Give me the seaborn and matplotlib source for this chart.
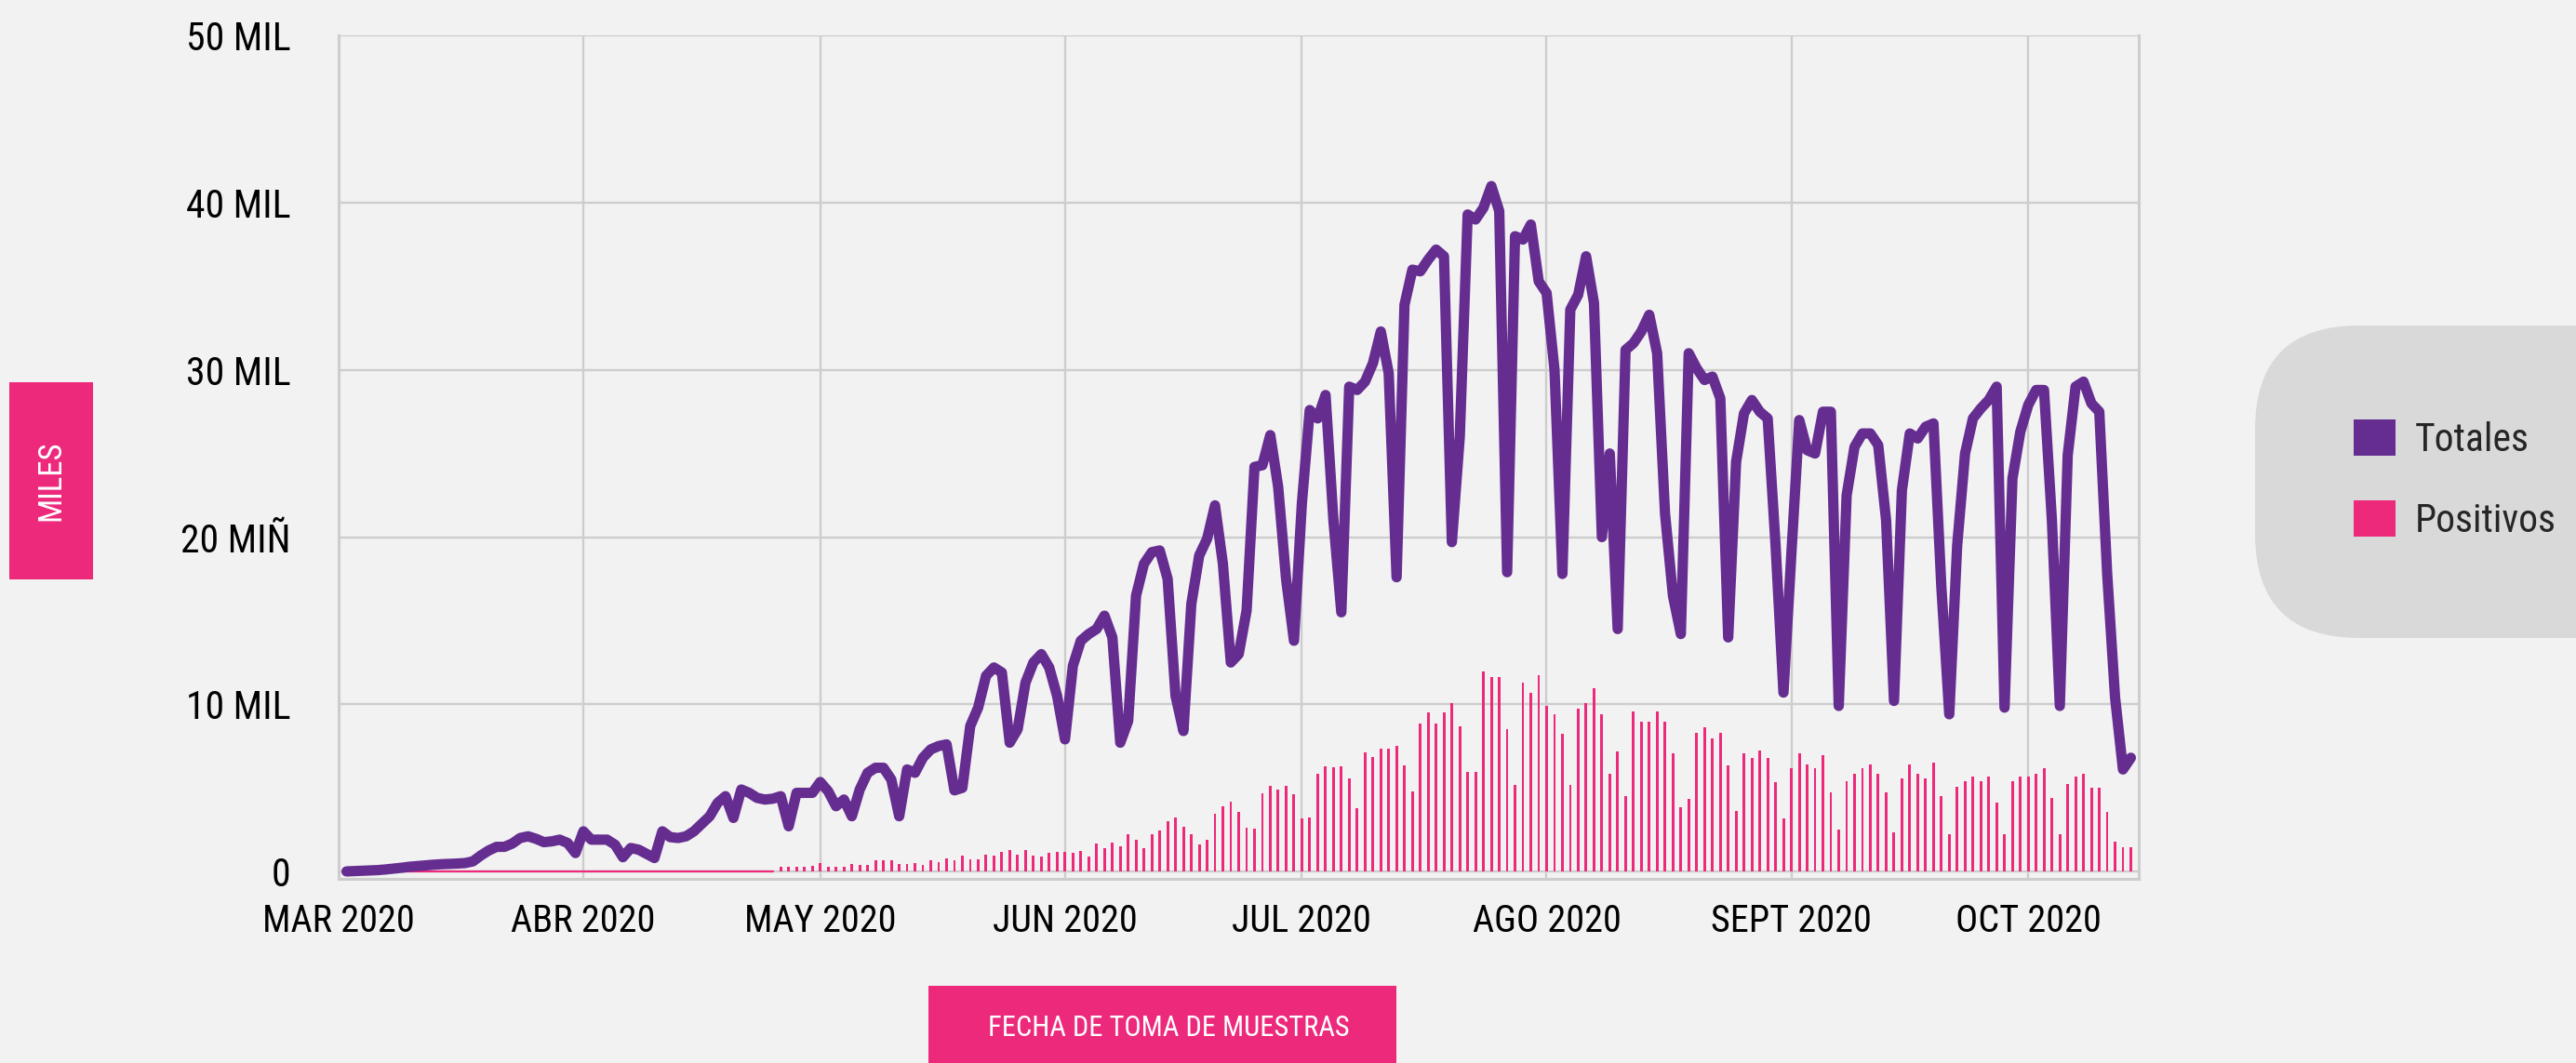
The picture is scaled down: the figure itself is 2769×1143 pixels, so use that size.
import matplotlib
matplotlib.use("Agg")
import numpy as np
import pandas as pd
import matplotlib.pyplot as plt
from matplotlib import font_manager
from matplotlib.patches import FancyBboxPatch, Rectangle, Patch
import seaborn as sns

# ---------------------------------------------------------------------------
# Data (thousands of samples per day)
# ---------------------------------------------------------------------------
series = ["Totales", "Positivos"]

totales_inicio = "2020-03-02"
totales_miles = [
    0.0, 0.02, 0.04, 0.06, 0.08, 0.12, 0.17, 0.22, 0.28, 0.32,      # mar 2-11
    0.36, 0.40, 0.43, 0.45, 0.47, 0.50, 0.60, 0.95, 1.25, 1.47,     # mar 12-21
    1.47, 1.67, 2.0, 2.1, 1.95, 1.75, 1.8, 1.9, 1.7, 1.1,           # mar 22-31
    2.4, 1.9, 1.9, 1.9, 1.6, 0.85, 1.4, 1.3, 1.05, 0.8,             # abr 1-10
    2.4, 2.05, 2.0, 2.1, 2.4, 2.85, 3.3, 4.1, 4.5, 3.2,             # abr 11-20
    4.9, 4.7, 4.4, 4.3, 4.35, 4.5, 2.7, 4.7, 4.7, 4.7,              # abr 21-30
    5.35, 4.8, 3.9, 4.3, 3.3, 4.9, 5.9, 6.2, 6.2, 5.5,              # may 1-10
    3.3, 6.1, 5.9, 6.8, 7.3, 7.5, 7.6, 4.85, 5.0, 8.7,              # may 11-20
    9.8, 11.7, 12.2, 11.9, 7.7, 8.5, 11.3, 12.5, 13.0, 12.2,        # may 21-30
    10.5, 7.9, 12.3, 13.8, 14.2, 14.5, 15.3, 14.0, 7.7, 9.0,        # may 31-jun 9
    16.5, 18.4, 19.1, 19.2, 17.5, 10.5, 8.4, 16.0, 18.9, 19.9,      # jun 10-19
    21.9, 18.4, 12.5, 13.0, 15.6, 24.2, 24.3, 26.1, 23.0, 17.5,     # jun 20-29
    13.8, 22.0, 27.6, 27.1, 28.5, 21.0, 15.5, 29.0, 28.8, 29.3,     # jun 30-jul 9
    30.4, 32.3, 29.8, 17.6, 33.9, 36.0, 35.9, 36.6, 37.2, 36.8,     # jul 10-19
    19.7, 26.0, 39.3, 39.0, 39.7, 41.0, 39.5, 17.9, 38.0, 37.8,     # jul 20-29
    38.7, 35.3, 34.6, 30.0, 17.8, 33.6, 34.5, 36.8, 34.0, 20.0,     # jul 30-ago 8
    25.0, 14.5, 31.2, 31.6, 32.3, 33.3, 31.0, 21.4, 16.5, 14.2,     # ago 9-18
    31.0, 30.1, 29.4, 29.6, 28.3, 14.0, 24.5, 27.4, 28.2, 27.5,     # ago 19-28
    27.1, 19.5, 10.7, 19.0, 27.0, 25.2, 25.0, 27.5, 27.5, 9.9,      # ago 29-sep 7
    22.5, 25.4, 26.2, 26.2, 25.5, 21.0, 10.2, 22.8, 26.2, 25.9,     # sep 8-17
    26.6, 26.8, 17.0, 9.4, 19.5, 25.0, 27.1, 27.7, 28.2, 29.0,      # sep 18-27
    9.8, 23.5, 26.3, 27.9, 28.8, 28.8, 21.0, 9.9, 24.9, 29.0,       # sep 28-oct 7
    29.3, 28.0, 27.5, 17.8, 10.4, 6.1, 6.8,                         # oct 8-14
]

positivos_inicio = "2020-03-08"
positivos_miles = [
    0, 0, 0, 0, 0, 0, 0, 0, 0, 0,                                    # mar 8-17
    0, 0, 0, 0, 0, 0, 0, 0, 0, 0,                                    # mar 18-27
    0, 0, 0, 0, 0, 0, 0, 0, 0, 0,                                    # mar 28-abr 6
    0, 0, 0, 0, 0, 0, 0, 0, 0, 0,                                    # abr 7-16
    0, 0, 0, 0, 0, 0, 0, 0, 0,                                       # abr 17-25
    0.3, 0.3, 0.3, 0.3, 0.35, 0.48, 0.3, 0.3, 0.3, 0.43,            # abr 26-may 5
    0.39, 0.39, 0.67, 0.67, 0.67, 0.43, 0.43, 0.48, 0.39, 0.67,     # may 6-15
    0.54, 0.8, 0.67, 0.95, 0.72, 0.72, 0.98, 0.95, 1.17, 1.26,      # may 16-25
    0.98, 1.26, 0.95, 0.87, 1.13, 1.17, 1.17, 1.13, 1.22, 0.89,     # may 26-jun 4
    1.68, 1.4, 1.72, 1.53, 2.2, 1.9, 1.4, 2.2, 2.43, 2.99,          # jun 5-14
    3.24, 2.66, 2.24, 1.59, 1.87, 3.43, 3.9, 4.2, 3.56, 2.62,       # jun 15-24
    2.57, 4.69, 5.12, 4.88, 5.1, 4.63, 3.15, 3.2, 5.86, 6.3,        # jun 25-jul 4
    6.25, 6.3, 5.56, 3.8, 7.12, 6.82, 7.36, 7.36, 7.51, 6.37,       # jul 5-14
    4.8, 8.87, 9.53, 8.87, 9.53, 10.08, 8.66, 5.95, 5.97, 11.95,    # jul 15-24
    11.65, 11.65, 8.5, 5.2, 11.28, 10.68, 11.74, 9.93, 9.41, 8.21,  # jul 25-ago 3
    5.17, 9.73, 10.09, 10.96, 9.4, 5.82, 7.19, 4.49, 9.59, 8.97,    # ago 4-13
    8.97, 9.59, 8.97, 7.08, 3.86, 4.35, 8.31, 8.61, 7.93, 8.31,     # ago 14-23
    6.37, 3.64, 7.08, 6.78, 7.22, 6.78, 5.36, 3.18, 6.18, 7.08,     # ago 24-sep 2
    6.38, 6.2, 6.97, 4.73, 2.53, 5.39, 5.83, 6.2, 6.38, 5.83,       # sep 3-12
    4.73, 2.31, 5.57, 6.38, 5.83, 5.57, 6.49, 4.51, 2.2, 5.06,      # sep 13-22
    5.39, 5.67, 5.39, 5.67, 4.12, 2.2, 5.39, 5.67, 5.67, 5.83,      # sep 23-oct 2
    6.2, 4.4, 2.2, 5.23, 5.67, 5.83, 5.0, 5.0, 3.56, 1.76,          # oct 3-12
    1.43, 1.43,                                                      # oct 13-14
]

meses = ["2020-03-01", "2020-04-01", "2020-05-01", "2020-06-01",
         "2020-07-01", "2020-08-01", "2020-09-01", "2020-10-01"]
etiquetas_meses = ["MAR 2020", "ABR 2020", "MAY 2020", "JUN 2020",
                   "JUL 2020", "AGO 2020", "SEPT 2020", "OCT 2020"]
valores_y = [0, 10, 20, 30, 40, 50]
etiquetas_y = ["0", "10 MIL", "20 MIÑ", "30 MIL", "40 MIL", "50 MIL"]

titulo_y = "MILES"
titulo_x = "FECHA DE TOMA DE MUESTRAS"

# ---------------------------------------------------------------------------
# Style
# ---------------------------------------------------------------------------
MORADO = "#662d91"
ROSA = "#ec297b"
FONDO = "#f2f2f2"
REJILLA = "#cdcdcd"
CAJA_LEYENDA = "#d9d9d9"

sns.set_theme(style="whitegrid")
nombres = {f.name for f in font_manager.fontManager.ttflist}
fuente = next((n for n in ["Liberation Sans Narrow", "Roboto Condensed",
                           "Open Sans Condensed"] if n in nombres),
              "Liberation Sans")
plt.rcParams["font.family"] = [fuente, "DejaVu Sans"]

W, H = 2769, 1143
fig = plt.figure(figsize=(W / 100, H / 100), dpi=100, facecolor=FONDO)

# decoration layer measured in pixels (label boxes, legend panel)
capa = fig.add_axes([0, 0, 1, 1], zorder=0)
capa.set_xlim(0, W)
capa.set_ylim(H, 0)
capa.set_axis_off()

ax = fig.add_axes([364 / W, 1 - 945 / H, (2299 - 364) / W, (945 - 38.3) / H],
                  zorder=1)
ax.set_facecolor(FONDO)

# ---------------------------------------------------------------------------
# Series
# ---------------------------------------------------------------------------
tot = pd.DataFrame({
    "fecha": pd.date_range(totales_inicio, periods=len(totales_miles), freq="D"),
    "miles": totales_miles,
})
pos = pd.DataFrame({
    "fecha": pd.date_range(positivos_inicio, periods=len(positivos_miles), freq="D"),
    "miles": positivos_miles,
})
pos_con = pos[pos["miles"] > 0]
pos_sin = pos[pos["miles"] == 0]

ax.bar(pos_con["fecha"], pos_con["miles"], width=0.34, color=ROSA,
       linewidth=0, zorder=2)
ax.plot(pos_sin["fecha"], pos_sin["miles"], color=ROSA, lw=1.6, zorder=2)

sns.lineplot(data=tot, x="fecha", y="miles", color=MORADO, linewidth=8.0,
             ax=ax, zorder=3)
linea = ax.lines[-1]
linea.set_solid_capstyle("round")
linea.set_solid_joinstyle("round")

# ---------------------------------------------------------------------------
# Axes
# ---------------------------------------------------------------------------
ax.set_xlim(pd.Timestamp("2020-03-01"), pd.Timestamp("2020-10-15"))
ax.set_ylim(-0.445, 50)
ax.set_xticks(pd.to_datetime(meses))
ax.set_xticklabels(etiquetas_meses)
ax.set_yticks(valores_y)
ax.set_yticklabels(etiquetas_y)
ax.set_xlabel("")
ax.set_ylabel("")

ax.tick_params(axis="both", length=0, labelcolor="black")
ax.tick_params(axis="y", pad=37, labelsize=30)
ax.tick_params(axis="x", pad=19, labelsize=29)

ax.grid(True, color=REJILLA, linewidth=1.7)
ax.set_axisbelow(True)
ax.spines["top"].set_visible(False)
for lado in ["left", "right", "bottom"]:
    ax.spines[lado].set_color(REJILLA)
    ax.spines[lado].set_linewidth(2.2)

# ---------------------------------------------------------------------------
# Legend panel
# ---------------------------------------------------------------------------
capa.add_patch(FancyBboxPatch((2424, 350), 500, 336,
                              boxstyle="round,pad=0,rounding_size=112",
                              facecolor=CAJA_LEYENDA, edgecolor="none"))
manejadores = [Patch(facecolor=MORADO, edgecolor="none", label=series[0]),
               Patch(facecolor=ROSA, edgecolor="none", label=series[1])]
ax.legend(handles=manejadores, loc="upper left",
          bbox_to_anchor=(2530 / W, 1 - 451 / H), bbox_transform=fig.transFigure,
          frameon=False, fontsize=30, handlelength=1.08, handleheight=1.08,
          handletextpad=0.5, labelspacing=1.05, borderpad=0, borderaxespad=0)

# ---------------------------------------------------------------------------
# Axis title boxes
# ---------------------------------------------------------------------------
capa.add_patch(Rectangle((10, 411), 90, 212, facecolor=ROSA, edgecolor="none"))
capa.text(55, 517, titulo_y, rotation=90, color="white", fontsize=25,
          ha="center", va="center")

capa.add_patch(Rectangle((998, 1060), 503, 100, facecolor=ROSA, edgecolor="none"))
capa.text(1256, 1105, titulo_x, color="white", fontsize=22,
          ha="center", va="center")

fig.savefig("out.png", dpi=100, facecolor=FONDO)
